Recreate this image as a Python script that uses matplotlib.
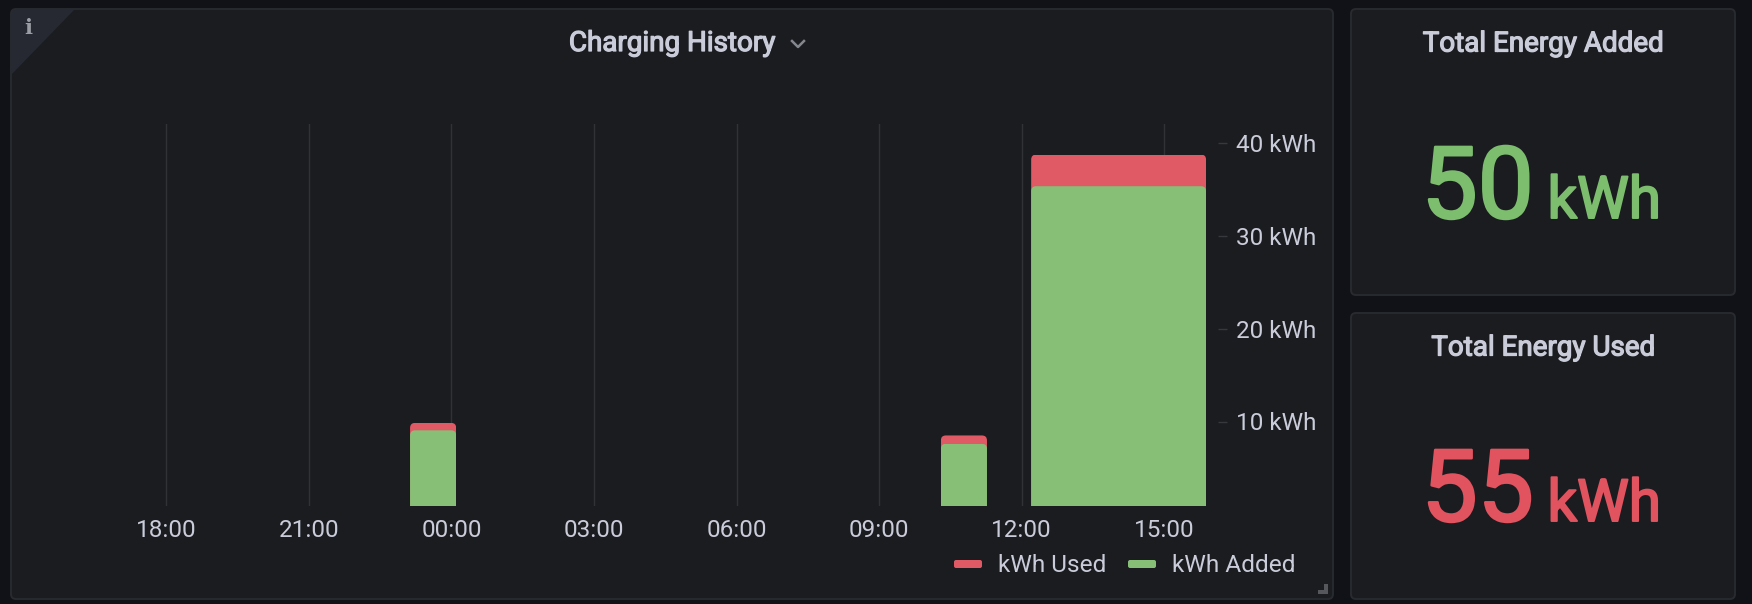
import matplotlib
matplotlib.use("Agg")
import matplotlib.pyplot as plt
import matplotlib.patheffects as pe
from matplotlib.patches import FancyBboxPatch, Polygon
from matplotlib.transforms import IdentityTransform

W, H = 1752, 604

# charging sessions, hours after 18:00
session_start = [5.13, 16.3, 18.2]
session_hours = [0.97, 0.97, 3.68]
kwh_used = [9.85, 8.5, 38.7]
kwh_added = [9.05, 7.6, 35.3]

hour_ticks = [0, 3, 6, 9, 12, 15, 18, 21]
hour_labels = ["18:00", "21:00", "00:00", "03:00", "06:00", "09:00", "12:00", "15:00"]
kwh_ticks = [10, 20, 30, 40]

total_added = 50
total_used = 55

PAGE = "#111217"
PANEL = "#1a1c20"
EDGE = "#272a2e"
TEXT = "#cbccda"
RED = "#e05a66"
GREEN = "#87bf76"
STAT_RED = "#e0535f"
STAT_GREEN = "#7dbd6e"

plt.rcParams["font.family"] = ["Roboto", "DejaVu Sans"]

fig = plt.figure(figsize=(W / 100, H / 100), dpi=100, facecolor=PAGE)

# pixel-coordinate layer for the panels and their captions
bg = fig.add_axes([0, 0, 1, 1])
bg.set_xlim(0, W)
bg.set_ylim(H, 0)
bg.axis("off")


def panel(x0, y0, x1, y1):
    bg.add_patch(FancyBboxPatch((x0 + 4, y0 + 4), x1 - x0 - 8, y1 - y0 - 8,
                                boxstyle="round,pad=4,rounding_size=5",
                                fc=PANEL, ec=EDGE, lw=1.4))


def heavy(txt, lw, col):
    # fattens the regular Roboto cut to a medium look
    txt.set_path_effects([pe.withStroke(linewidth=lw, foreground=col)])


def caption(x, y, s):
    heavy(bg.text(x, y, s, color=TEXT, fontsize=20, ha="center", va="baseline"), 0.9, TEXT)


def stat(y, value, col):
    heavy(bg.text(1421.5, y, str(value), color=col, fontsize=72, ha="left", va="baseline"), 1.8, col)
    heavy(bg.text(1547.5, y, "kWh", color=col, fontsize=42, ha="left", va="baseline"), 1.4, col)


panel(11, 9, 1333, 599)
panel(1351, 9, 1735, 295)
panel(1351, 313, 1735, 599)

# info corner of the main panel
bg.add_patch(Polygon([(12, 10), (74, 10), (12, 74)], fc="#262932", ec="none"))
bg.text(28, 27.5, "i", color="#9b9da4", fontsize=15, fontweight="bold",
        family="DejaVu Serif", ha="center", va="center")

heavy(bg.text(672, 51, "Charging History", color=TEXT, fontsize=20, ha="center", va="baseline"), 0.9, TEXT)
bg.plot([792, 798, 804], [41, 47, 41], color="#85878e", lw=1.8)

# resize handle
bg.add_patch(Polygon([(1328, 584), (1328, 594), (1318, 594), (1318, 590),
                      (1324, 590), (1324, 584)], fc="#55575c", ec="none"))

# legend
legend_rows = [(954, 998, RED, "kWh Used"), (1128, 1172, GREEN, "kWh Added")]
for sx, tx, col, name in legend_rows:
    bg.add_patch(FancyBboxPatch((sx + 2, 562), 24, 4, boxstyle="round,pad=2,rounding_size=2",
                                fc=col, ec="none"))
    bg.text(tx, 565, name, color=TEXT, fontsize=17.6, ha="left", va="center")

# stat panels
caption(1543, 51.5, "Total Energy Added")
stat(218, total_added, STAT_GREEN)
caption(1543, 355.5, "Total Energy Used")
stat(521, total_used, STAT_RED)

# chart axes: x runs at 47.52 px per hour, y at 9.3 px per kWh
left, right, top, bottom = 60, 1207, 124, 505.7
y_zero = 514.5
ax = fig.add_axes([left / W, 1 - bottom / H, (right - left) / W, (bottom - top) / H])
ax.patch.set_alpha(0)
ax.set_xlim((left - 166.3) / 47.52, (right - 166.3) / 47.52)
ax.set_ylim((y_zero - bottom) / 9.3, (y_zero - top) / 9.3)

ax.set_xticks(hour_ticks)
ax.set_xticklabels(hour_labels)
ax.set_yticks(kwh_ticks)
ax.set_yticklabels([f"{v} kWh" for v in kwh_ticks])
ax.yaxis.tick_right()
ax.grid(axis="x", color="#303236", lw=1)
ax.set_axisbelow(True)
for s in ax.spines.values():
    s.set_visible(False)
ax.spines["right"].set_position(("outward", 8))
ax.tick_params(axis="x", length=0, pad=9.5, labelsize=17.5, labelcolor=TEXT)
ax.tick_params(axis="y", length=6.5, width=1, color="#36383d", pad=6.5, labelsize=17.5, labelcolor=TEXT)


def round_tops(bars):
    # rounded top corners only: the clip box runs on below the baseline
    for b in bars:
        e = b.get_window_extent(fig.canvas.get_renderer())
        clip = FancyBboxPatch((e.x0 + 5, e.y0 - 10), e.width - 10, e.height + 5,
                              boxstyle="round,pad=5,rounding_size=5",
                              transform=IdentityTransform())
        b.set_clip_path(clip)


round_tops(ax.bar(session_start, kwh_used, session_hours, align="edge", color=RED, zorder=2))
round_tops(ax.bar(session_start, kwh_added, session_hours, align="edge", color=GREEN, zorder=3))

fig.savefig("out.png", dpi=100, facecolor=PAGE)
